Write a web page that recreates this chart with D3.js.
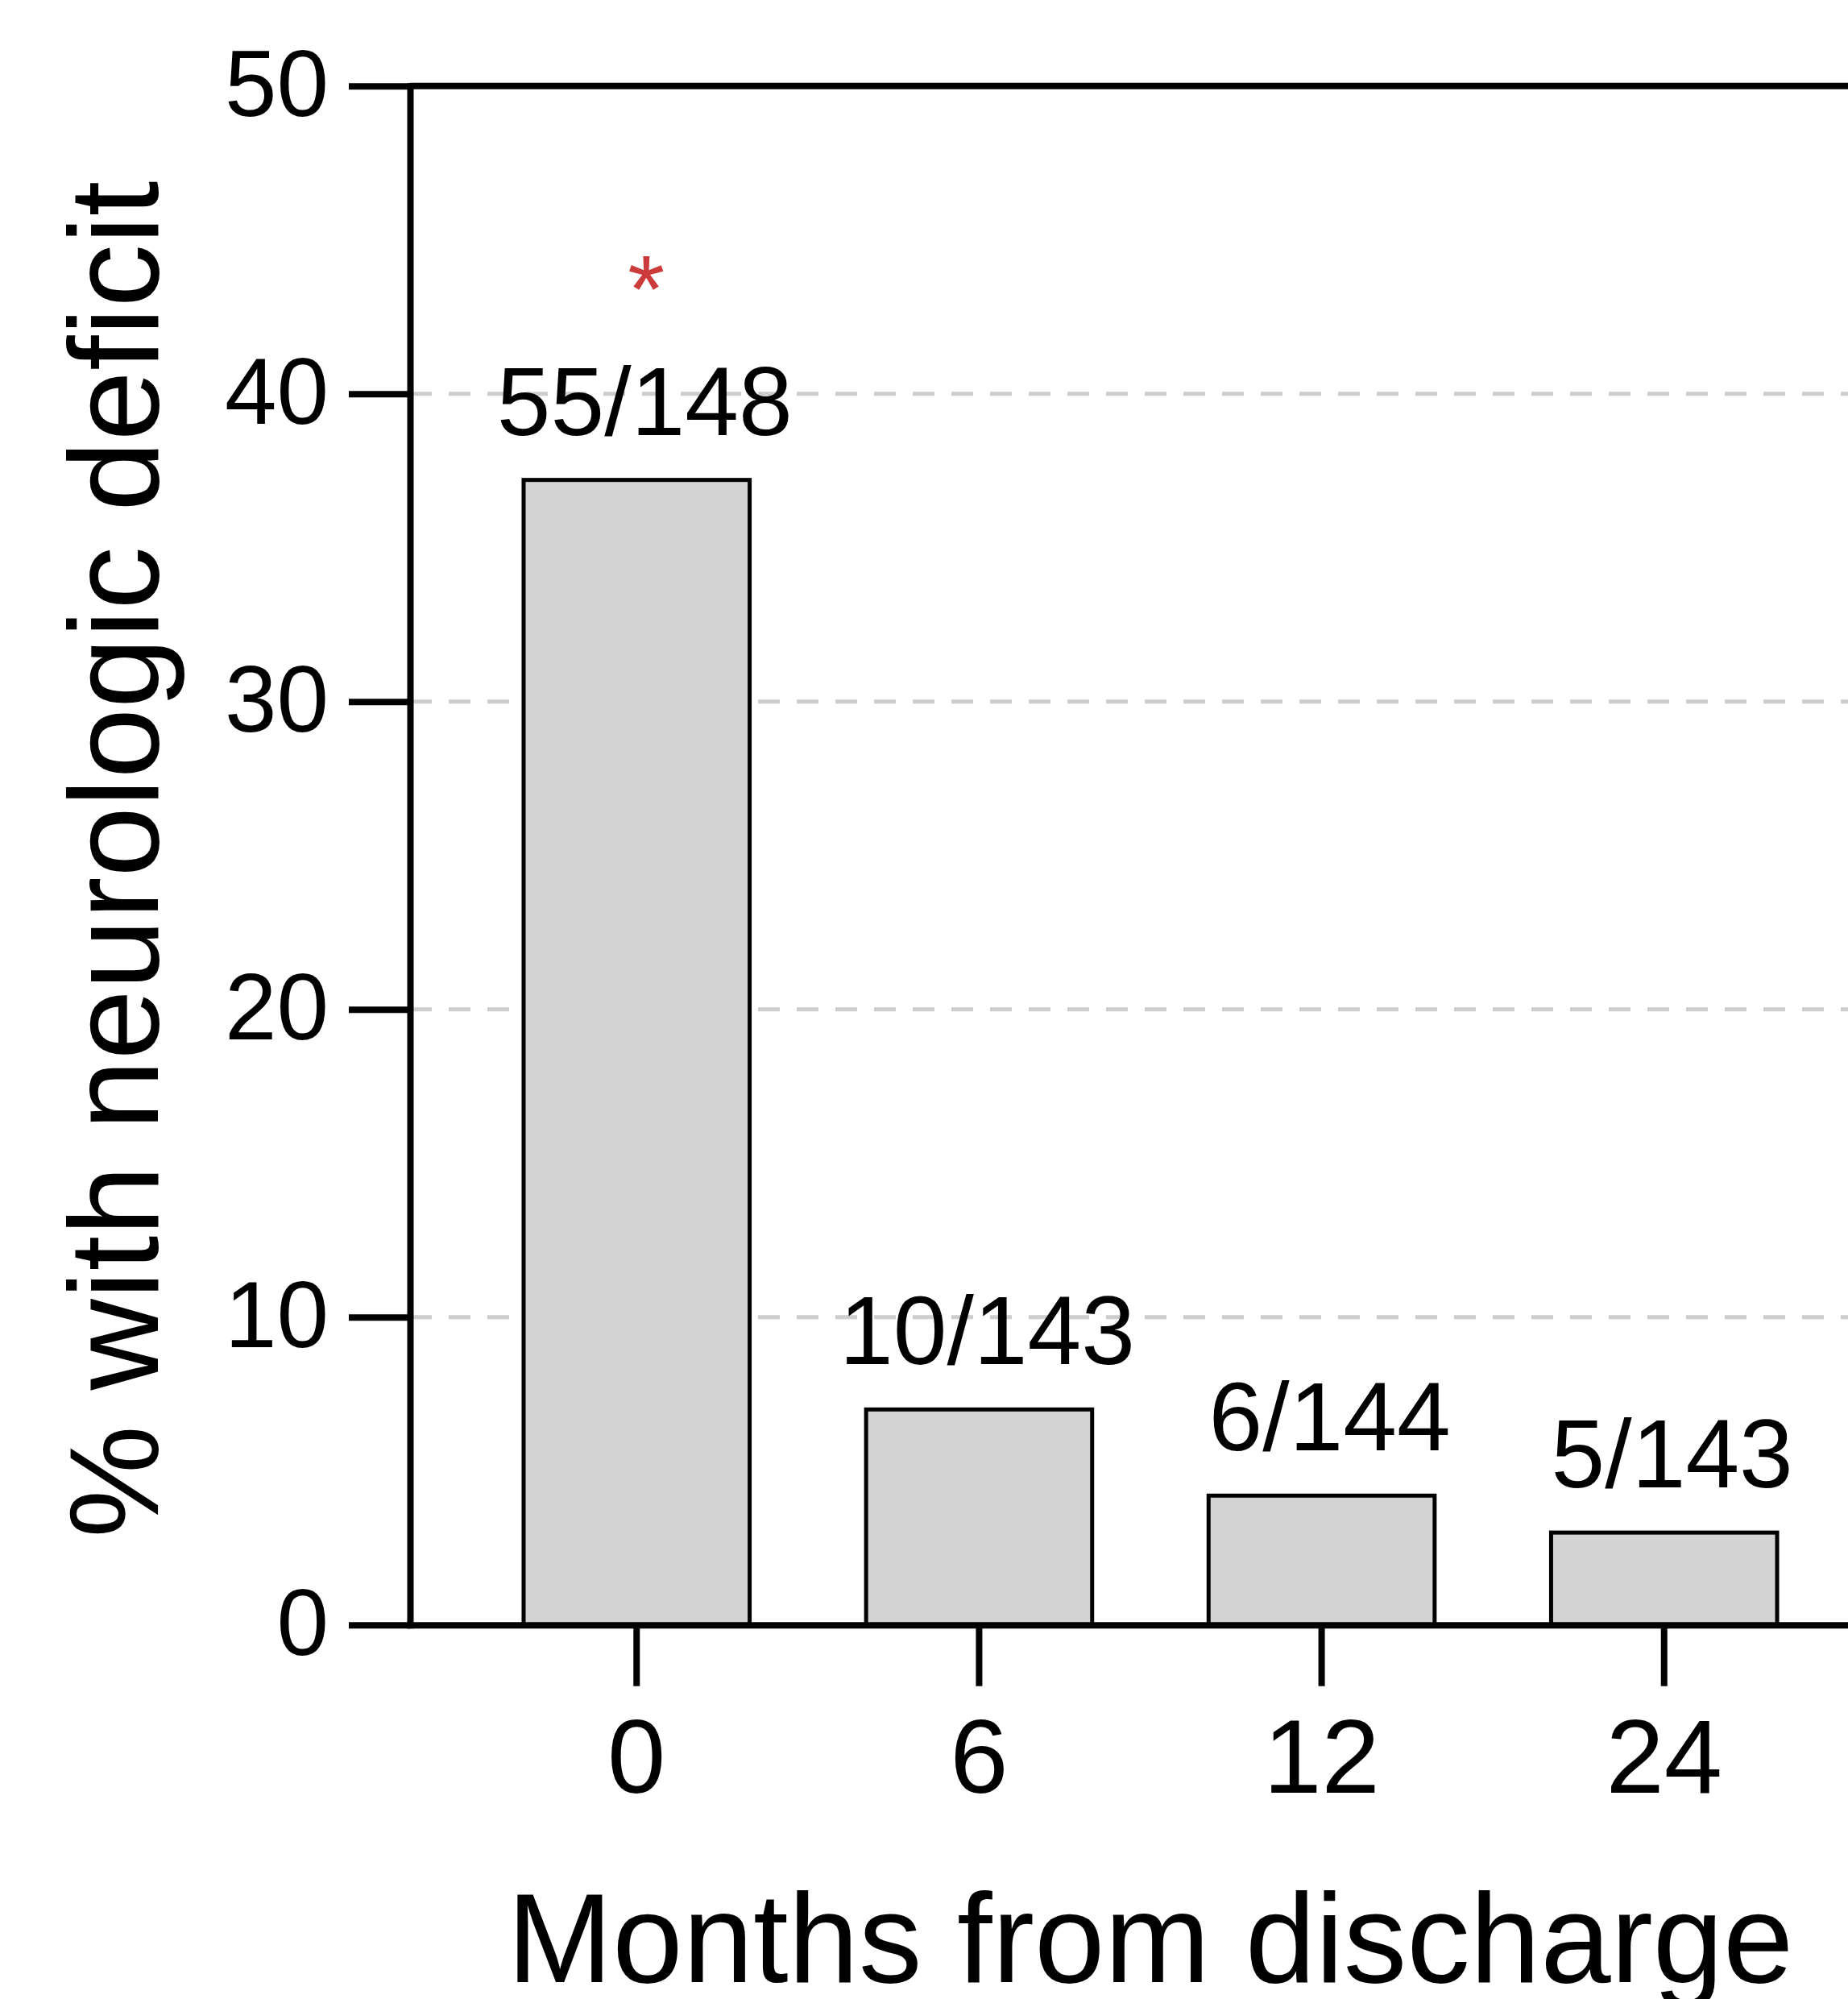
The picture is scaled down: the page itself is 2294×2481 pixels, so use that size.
<!DOCTYPE html>
<html>
<head>
<meta charset="utf-8">
<script src="https://cdn.jsdelivr.net/npm/d3@7"></script>
<style>
    html, body { margin: 0; padding: 0; background: #ffffff; }
    svg { display: block; }
    text { font-family: "Liberation Sans", Arial, sans-serif; fill: #000; }
</style>
</head>
<body>
<div id="chart"></div>
<script>
// Chart data
const months = ["0", "6", "12", "24"];                 // x categories
const pctDeficit = [37.2, 7.0, 4.2, 3.0];              // % with neurologic deficit
const countLabels = ["55/148", "10/143", "6/144", "5/143"];
const significant = [true, false, false, false];       // red asterisk
const yTicks = [0, 10, 20, 30, 40, 50];
const gridTicks = [10, 20, 30, 40];

const width = 2294, height = 2481;
const plot = { left: 509, right: 2347, top: 106.7, bottom: 2016.7 };

const svg = d3.select("#chart")
    .append("svg")
    .attr("width", width)
    .attr("height", height);

// Scales
const x = d3.scaleBand()
    .domain(months)
    .range([plot.left, plot.right])
    .paddingInner(0.34)
    .paddingOuter(0.3316);

const y = d3.scaleLinear()
    .domain([0, 50])
    .range([plot.bottom, plot.top]);

// Dashed gridlines
svg.append("g")
    .selectAll("line")
    .data(gridTicks)
    .enter()
    .append("line")
    .attr("x1", plot.left)
    .attr("x2", plot.right)
    .attr("y1", d => y(d))
    .attr("y2", d => y(d))
    .attr("stroke", "#cdcdcd")
    .attr("stroke-width", 5)
    .attr("stroke-dasharray", "27 21");

// Bars
svg.append("g")
    .selectAll("rect")
    .data(pctDeficit)
    .enter()
    .append("rect")
    .attr("x", (d, i) => x(months[i]))
    .attr("y", d => y(d))
    .attr("width", x.bandwidth())
    .attr("height", d => y(0) - y(d))
    .attr("fill", "#d3d3d3")
    .attr("stroke", "#000")
    .attr("stroke-width", 5);

// Count labels above bars
const labelOffset = 56;
svg.append("g")
    .selectAll("text")
    .data(countLabels)
    .enter()
    .append("text")
    .attr("x", (d, i) => x(months[i]) + x.bandwidth() / 2 + 10)
    .attr("y", (d, i) => y(pctDeficit[i]) - labelOffset)
    .attr("text-anchor", "middle")
    .style("font-size", "120px")
    .text(d => d);

// Significance asterisks
svg.append("g")
    .selectAll("text")
    .data(pctDeficit.filter((d, i) => significant[i]))
    .enter()
    .append("text")
    .attr("x", (d, i) => x(months[pctDeficit.indexOf(d)]) + x.bandwidth() / 2 + 12)
    .attr("y", d => y(d) - labelOffset - 140)
    .attr("text-anchor", "middle")
    .style("font-size", "118px")
    .style("fill", "#cc3b3b")
    .text("*");

// Y axis
const yAxis = svg.append("g")
    .attr("transform", `translate(${plot.left},0)`)
    .call(d3.axisLeft(y)
        .tickValues(yTicks)
        .tickSize(76)
        .tickSizeOuter(0)
        .tickPadding(25));
yAxis.selectAll("text").style("font-size", "116px");

// X axis
const xAxis = svg.append("g")
    .attr("transform", `translate(0,${plot.bottom})`)
    .call(d3.axisBottom(x)
        .tickSize(76)
        .tickSizeOuter(0)
        .tickPadding(40));
xAxis.selectAll("text").style("font-size", "130px");

// Top frame line
svg.append("line")
    .attr("x1", plot.left)
    .attr("x2", plot.right)
    .attr("y1", y(50))
    .attr("y2", y(50))
    .attr("stroke", "#000")
    .attr("stroke-width", 8);

svg.selectAll(".domain, .tick line")
    .attr("stroke", "#000")
    .attr("stroke-width", 8)
    .attr("stroke-linecap", "square");
svg.selectAll(".tick line").attr("stroke-linecap", "butt");
svg.selectAll(".tick text").style("font-family", "Liberation Sans, Arial, sans-serif");

// Axis titles
svg.append("text")
    .attr("transform", "rotate(-90)")
    .attr("x", -(plot.top + plot.bottom) / 2 - 5)
    .attr("y", 196)
    .attr("text-anchor", "middle")
    .style("font-size", "157px")
    .text("% with neurologic deficit");

svg.append("text")
    .attr("x", (plot.left + plot.right) / 2)
    .attr("y", 2460)
    .attr("text-anchor", "middle")
    .style("font-size", "157px")
    .text("Months from discharge");
</script>
</body>
</html>
